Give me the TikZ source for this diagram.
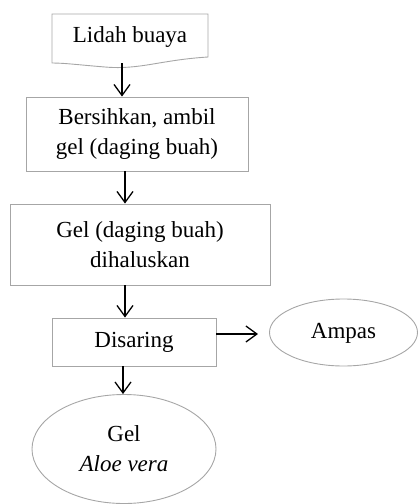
\documentclass[tikz,border=0pt]{standalone}
\usepackage{fontspec}
\setmainfont{Liberation Serif}
\usetikzlibrary{arrows.meta,shapes.geometric}
\begin{document}
\begin{tikzpicture}[x=1pt,y=-1pt,
  font=\fontsize{23}{30}\selectfont,
  box/.style={draw=gray!70,line width=0.9pt,rectangle,align=center,inner sep=0pt},
  oval/.style={draw=gray!70,line width=0.9pt,ellipse,align=center,inner sep=0pt},
  arr/.style={draw=black,line width=1.3pt,-{Straight Barb[length=11pt,width=16pt,line width=1.3pt]}}]
\useasboundingbox (0,0) rectangle (418,504);
% document shape
\draw[draw=gray!70,line width=0.9pt] (52,14) -- (208,14) -- (208,57)
  .. controls (160,60) and (140,70) .. (105,67)
  .. controls (80,65) and (65,63) .. (52,63) -- cycle;
\node (lidah) at (130,37) {Lidah buaya};
\coordinate (lidahbot) at (122,63);
\node[box,minimum width=222pt,minimum height=74pt] (bersih) at (137,134) {Bersihkan, ambil\\gel (daging buah)};
\node[box,minimum width=260pt,minimum height=81pt] (halus) at (140,244.5) {Gel (daging buah)\\dihaluskan};
\node[box,minimum width=164pt,minimum height=48pt] (saring) at (134,342) {Disaring};
\node[oval,minimum width=148pt,minimum height=67pt,text depth=4pt] (ampas) at (343.5,332.5) {Ampas};
\node[oval,minimum width=184pt,minimum height=109pt] (gel) at (124,449) {Gel\\\textit{Aloe vera}};
\draw[arr] (lidahbot) -- (bersih.north -| lidahbot);
\draw[arr] (bersih.south -| 125,0) -- (halus.north -| 125,0);
\draw[arr] (halus.south -| 125,0) -- (saring.north -| 125,0);
\draw[arr] (saring.south -| 123,0) -- (gel.north -| 123,0);
\draw[arr] (saring.east |- 0,334) -- (258,334);
\end{tikzpicture}
\end{document}
